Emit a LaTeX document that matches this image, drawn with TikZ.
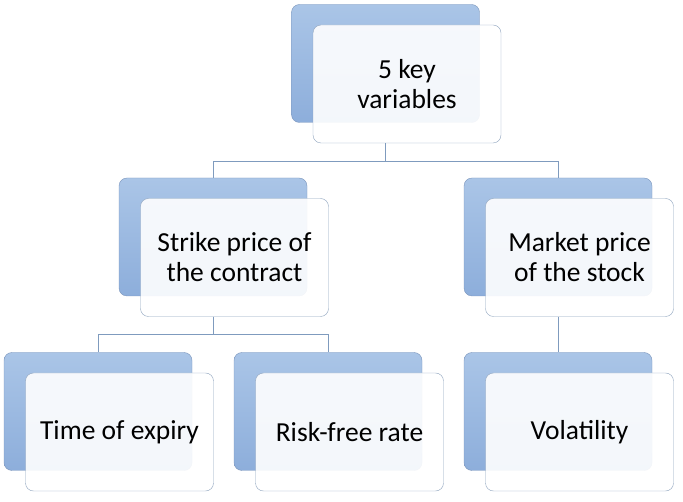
\documentclass[tikz,border=0pt]{standalone}
\usepackage{fontspec}
\setmainfont{Carlito}
\usetikzlibrary{positioning}

\definecolor{backtop}{HTML}{AAC5E7}
\definecolor{backbot}{HTML}{8DAEDB}
\definecolor{backline}{HTML}{7C96BC}
\definecolor{frontline}{HTML}{8FA4BE}
\definecolor{linkline}{HTML}{7F9BBE}

\tikzset{
	backbox/.style={draw=backline, rounded corners=8pt, top color=backtop, bottom color=backbot,
		minimum width=188pt, minimum height=118pt, inner sep=0pt},
	frontbox/.style={draw=frontline, rounded corners=8pt, fill=white, fill opacity=0.9, text opacity=1,
		minimum width=188pt, minimum height=118pt, inner sep=0pt, align=center,
		font=\fontsize{27.5pt}{30pt}\selectfont},
	link/.style={draw=linkline, line width=0.9pt}
}

\begin{document}
\begin{tikzpicture}[x=1pt, y=-1pt]
				\useasboundingbox (0,0) rectangle (683,502);
				% shadow boxes
				\node[backbox] (keyb)      at (385.5, 63.5) {};
				\node[backbox] (strikeb)   at (213, 237) {};
				\node[backbox] (marketb)   at (558, 237) {};
				\node[backbox] (expiryb)   at (98, 411.5) {};
				\node[backbox] (rateb)     at (328, 411.5) {};
				\node[backbox] (volb)      at (558, 411.5) {};
				% front boxes
				\node[frontbox] (key)      at (407, 84) {5 key\\variables};
				\node[frontbox] (strike)   at (234.5, 257.5) {Strike price of\\the contract};
				\node[frontbox] (market)   at (579.5, 257.5) {Market price\\of the stock};
				\node[frontbox] (expiry)   at (119.5, 432) {Time of expiry};
				\node[frontbox] (rate)     at (349.5, 432) {Risk-free rate};
				\node[frontbox] (vol)      at (579.5, 432) {Volatility};
				% connectors
				\draw[link] (keyb.south |- key.south) -- ++(0,18) -| (strikeb.north);
				\draw[link] (keyb.south |- key.south) -- ++(0,18) -| (marketb.north);
				\draw[link] (strikeb.south |- strike.south) -- ++(0,18) -| (expiryb.north);
				\draw[link] (strikeb.south |- strike.south) -- ++(0,18) -| (rateb.north);
				\draw[link] (marketb.south |- market.south) -- (volb.north);
			\end{tikzpicture}
\end{document}
